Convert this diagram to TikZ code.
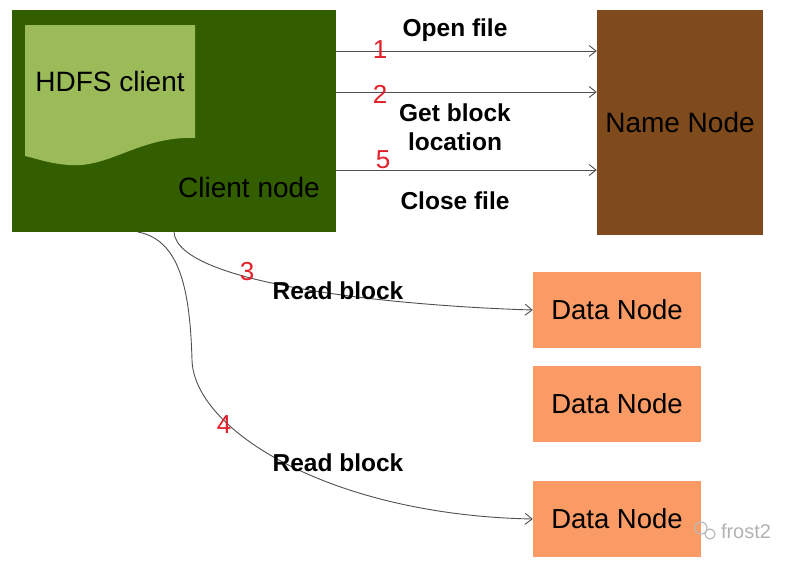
\documentclass[tikz,border=0pt]{standalone}
\usepackage{fontspec}
\setmainfont{Liberation Sans}
\usetikzlibrary{arrows.meta}
\definecolor{clientgreen}{HTML}{335E00}
\definecolor{hdfsgreen}{HTML}{9BBB59}
\definecolor{namebrown}{HTML}{7F4B1C}
\definecolor{datasalmon}{HTML}{FA9A64}
\definecolor{stepred}{HTML}{E2202A}
\definecolor{linegray}{HTML}{505050}
\tikzset{
  boxnode/.style={draw=none, inner sep=0pt, font=\fontsize{28}{30}\selectfont},
  datanode/.style={boxnode, fill=datasalmon, minimum width=168pt, minimum height=76pt, font=\fontsize{27.5}{30}\selectfont},
  lbl/.style={inner sep=0pt, font=\fontsize{24.5}{29}\selectfont\bfseries, align=center},
  num/.style={inner sep=0pt, text=stepred, font=\fontsize{26}{28}\selectfont},
  conn/.style={draw=linegray, line width=0.9pt, -{Straight Barb[length=7pt,width=11pt]}}
}
\begin{document}
\begin{tikzpicture}[x=1pt,y=-1pt]
\useasboundingbox[fill=white] (0,0) rectangle (799,563);
% nodes
\node[boxnode, fill=clientgreen, minimum width=324pt, minimum height=222pt] (client) at (174,121) {};
\fill[hdfsgreen] (25,25) -- (195,25) -- (195,138) .. controls (140,136) and (110,168) .. (70,165) .. controls (50,164) and (35,158) .. (25,156) -- cycle;
\node[inner sep=0pt, font=\fontsize{28}{30}\selectfont] (hdfs) at (110,81) {HDFS client};
\node[inner sep=0pt, font=\fontsize{28}{30}\selectfont] (clientlbl) at (249,187) {Client node};
\node[boxnode, fill=namebrown, minimum width=166pt, minimum height=225pt] (name) at (680,122.5) {Name Node};
\node[datanode] (d1) at (617,310) {Data Node};
\node[datanode] (d2) at (617,404) {Data Node};
\node[datanode] (d3) at (617,519) {Data Node};
% coordinates
\coordinate (y1) at (0,51);
\coordinate (y2) at (0,92);
\coordinate (y5) at (0,170);
\coordinate (s4) at (138,232);
\coordinate (m4) at (192,360);
% connectors to name node
\draw[conn] (client.east |- y1) -- (name.west |- y1);
\draw[conn] (client.east |- y2) -- (name.west |- y2);
\draw[conn] (client.east |- y5) -- (name.west |- y5);
% connectors to data nodes
\draw[conn] (client.south) .. controls (178,285) and (400,306) .. (d1.west);
\draw[conn] (s4) .. controls (180,240) and (190,290) .. (m4) .. controls (194,430) and (330,515) .. (d3.west);
% labels
\node[lbl] (l1) at (455,30) {Open file};
\node[lbl] (l2) at (455,127) {Get block\\location};
\node[lbl] (l5) at (455,201) {Close file};
\node[lbl] (l3) at (338,291) {Read block};
\node[lbl] (l4) at (338,463) {Read block};
\node[num] (n1) at (380,50) {1};
\node[num] (n2) at (380,94) {2};
\node[num] (n5) at (383,160) {5};
\node[num] (n3) at (247,272) {3};
\node[num] (n4) at (224,425) {4};
% watermark
\draw[gray!55, line width=1.2pt] (701,528) circle (6pt);
\draw[gray!55, line width=1.2pt, fill=white] (710,534) circle (5pt);
\node[inner sep=0pt, text=gray!60, font=\fontsize{20}{22}\selectfont] (wm) at (746,531) {frost2};
\end{tikzpicture}
\end{document}
